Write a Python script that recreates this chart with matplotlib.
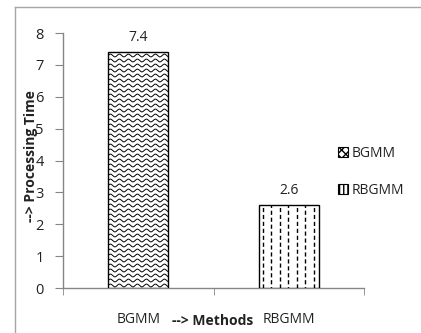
import numpy as np
import matplotlib
matplotlib.use("Agg")
import matplotlib.pyplot as plt
from matplotlib.lines import Line2D
from matplotlib.patches import Rectangle

categories = ["BGMM", "RBGMM"]
values = [7.4, 2.6]
value_labels = ["7.4", "2.6"]
yticks = [0, 1, 2, 3, 4, 5, 6, 7, 8]

plt.rcParams['font.family'] = ['Open Sans', 'DejaVu Sans']

W, H = 421, 333
fig = plt.figure(figsize=(W / 100, H / 100), dpi=100)
ax = fig.add_axes([63 / W, 1 - 288 / H, (364 - 63) / W, (288 - 33) / H])

# outer chart-area frame (cropped at right/bottom)
fig.add_artist(Line2D([15 / W, 1], [1 - 7 / H, 1 - 7 / H], transform=fig.transFigure, color="#a6a6a6", lw=1))
fig.add_artist(Line2D([15 / W, 15 / W], [0, 1 - 7 / H], transform=fig.transFigure, color="#a6a6a6", lw=1))

x = np.arange(len(categories))
bw = 0.4
bars = ax.bar(x, values, width=bw, color="white", edgecolor="black", linewidth=1.0, zorder=3)

ax.set_xlim(-0.5, 1.5)
ax.set_ylim(0, 8)

# pixel -> data scales
xpx = 2.0 / 301
ypx = 8.0 / 255

# wavy hatch for bar 0
b0 = bars[0]
xs = np.linspace(x[0] - bw / 2, x[0] + bw / 2, 300)
period = 9 * xpx
amp = 1.4 * ypx
row = 5 * ypx
yy = row / 2
while yy < values[0] + row:
    ln = Line2D(xs, yy + amp * np.sin(2 * np.pi * (xs - xs[0]) / period), color="black", lw=0.7, zorder=4)
    ax.add_line(ln)
    ln.set_clip_path(b0)
    yy += row

# dashed vertical hatch for bar 1
b1 = bars[1]
col = 8.5 * xpx
xx = x[1] - bw / 2 + col / 2
k = 0
while xx < x[1] + bw / 2:
    ln = Line2D([xx, xx], [0, values[1]], color="black", lw=1.0, zorder=4,
                linestyle=(k % 2 * 2.0, (3.0, 2.0)))
    ax.add_line(ln)
    ln.set_clip_path(b1)
    xx += col
    k += 1

for xi, v, lab in zip(x, values, value_labels):
    ax.text(xi, v + 0.22, lab, ha="center", va="bottom", fontsize=10, color="#222222")

spine_c = "#868686"
for s in ["top", "right"]:
    ax.spines[s].set_visible(False)
for s in ["left", "bottom"]:
    ax.spines[s].set_color(spine_c)
    ax.spines[s].set_linewidth(1.0)

ax.set_yticks(yticks)
ax.tick_params(axis="y", which="major", length=6, color=spine_c, labelsize=10.5, labelcolor="#222222", pad=8)
ax.set_xticks(x)
ax.set_xticklabels(categories)
ax.tick_params(axis="x", which="major", length=0, labelsize=10, labelcolor="#222222", pad=17)
ax.set_xticks([-0.5, 0.5, 1.5], minor=True)
ax.tick_params(axis="x", which="minor", length=5, color=spine_c)

fig.text(213 / W, 1 - 321 / H, "--> Methods", ha="center", va="center", fontsize=10, fontweight="bold", color="#222222")
fig.text(31 / W, 1 - 156 / H, "--> Processing Time", ha="center", va="center", rotation=90,
         fontsize=10, fontweight="bold", color="#222222")

# legend
h0 = Rectangle((0, 0), 1, 1, facecolor="white", edgecolor="black", hatch="xxxx", lw=0.8)
h1 = Rectangle((0, 0), 1, 1, facecolor="white", edgecolor="black", hatch="||||", lw=0.8)
leg = fig.legend([h0, h1], categories, loc="center left", bbox_to_anchor=(331 / W, 1 - 172 / H),
                 frameon=False, fontsize=10, handlelength=0.7, handleheight=0.7, handletextpad=0.3,
                 labelspacing=1.6, borderpad=0)
for t in leg.get_texts():
    t.set_color("#222222")

fig.savefig("out.png", dpi=100)
